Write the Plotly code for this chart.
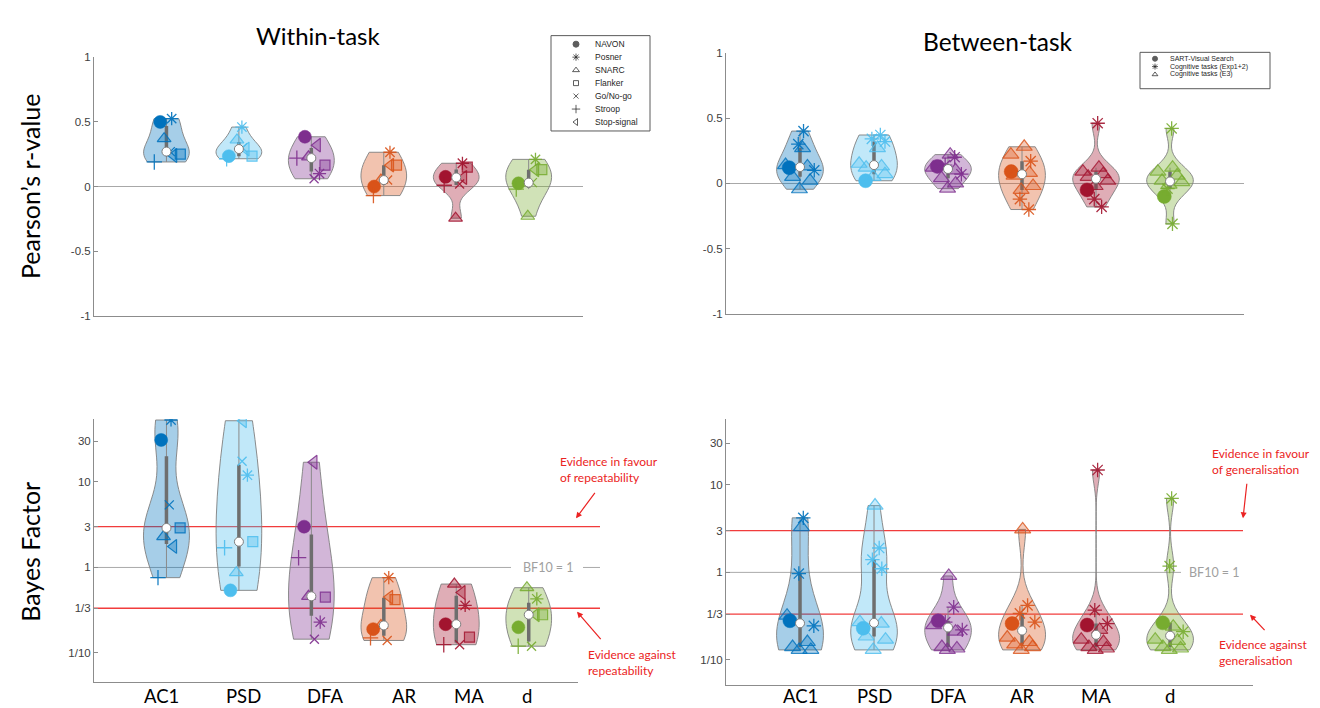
import numpy as np
import plotly.graph_objects as go

W, H = 1320, 708

# ---------------- data ----------------
metrics = ["AC1", "PSD", "DFA", "AR", "MA", "d"]
metric_colors = ["#0072BD", "#4DBEEE", "#7E2F8E", "#D95319", "#A2142F", "#77AC30"]

within_tasks = ["NAVON", "Posner", "SNARC", "Flanker", "Go/No-go", "Stroop", "Stop-signal"]

# Within-task Pearson r, one value per metric (order = metrics)
rw_navon = [0.50, 0.235, 0.385, 0.00, 0.075, 0.025]
rw_posner = [0.525, 0.46, 0.10, 0.265, 0.18, 0.21]
rw_snarc = [0.37, 0.36, 0.23, 0.05, -0.245, -0.23]
rw_flanker = [0.25, 0.235, 0.165, 0.165, 0.15, 0.13]
rw_gonogo = [0.27, 0.30, 0.06, 0.05, 0.02, 0.03]
rw_stroop = [0.19, 0.215, 0.22, -0.07, 0.01, -0.02]
rw_stop = [0.24, 0.29, 0.32, 0.165, 0.07, 0.13]

# Within-task Bayes factors (BF10)
bfw_navon = [31, 0.54, 3.0, 0.19, 0.217, 0.20]
bfw_posner = [53, 12, 0.23, 0.76, 0.36, 0.43]
bfw_snarc = [2.3, 0.87, 0.46, 0.21, 0.64, 0.58]
bfw_flanker = [2.9, 2.0, 0.45, 0.42, 0.153, 0.28]
bfw_gonogo = [5.4, 17.5, 0.145, 0.14, 0.125, 0.12]
bfw_stroop = [0.76, 1.7, 1.3, 0.15, 0.125, 0.12]
bfw_stop = [1.76, 52, 17, 0.45, 0.51, 0.28]

between_groups = ["SART-Visual Search", "Cognitive tasks (Exp1+2)", "Cognitive tasks (E3)"]

# Between-task Pearson r
rb_sart = [0.12, 0.02, 0.13, 0.09, -0.05, -0.10]
rb_exp12 = [[0.40, 0.30, 0.10], [0.37, 0.34, 0.32], [0.20, 0.14, 0.07],
            [0.17, -0.12, -0.20], [0.46, -0.12, -0.18], [0.42, -0.04, -0.31]]
rb_e3 = [[0.27, 0.14, 0.13, 0.05, 0.02, -0.045], [0.27, 0.15, 0.13, 0.12, 0.07, 0.05],
         [0.22, 0.12, 0.10, 0.04, 0.0, -0.04], [0.28, 0.22, 0.08, 0.06, -0.02, -0.05],
         [0.12, 0.09, 0.07, 0.05, 0.02, -0.02], [0.12, 0.09, 0.06, 0.02, 0.01, -0.01]]

# Between-task Bayes factors
bfb_sart = [0.28, 0.23, 0.28, 0.26, 0.25, 0.265]
bfb_exp12 = [[4.2, 0.97, 0.245], [1.9, 1.4, 1.1], [0.40, 0.27, 0.22],
             [0.42, 0.34, 0.27], [14.8, 0.37, 0.26], [7.0, 1.18, 0.21]]
bfb_e3 = [[3.3, 0.32, 0.16, 0.14, 0.13, 0.13], [5.8, 0.27, 0.26, 0.185, 0.17, 0.13],
          [0.91, 0.25, 0.21, 0.14, 0.135, 0.13], [3.1, 0.18, 0.16, 0.15, 0.14, 0.13],
          [0.22, 0.17, 0.16, 0.14, 0.135, 0.13], [0.24, 0.17, 0.165, 0.14, 0.135, 0.13]]

bf_ticks = [0.1, 1 / 3, 1, 3, 10, 30]
bf_ticktext = ["1/10", "1/3", "1", "3", "10", "30"]
r_ticks = [-1, -0.5, 0, 0.5, 1]

# ---------------- styles ----------------
FONT_T = "Lato"
FONT_A = "Liberation Sans"
VW = 0.63
BW_SCALE = 1.2
JIT = np.array([-0.55, 0.5, -0.15, 0.72, 0.2, -0.75, 0.38, -0.4, 0.6, -0.05, 0.1, -0.3])

within_styles = [
    dict(symbol="circle", size=13, fa=1.0, la=1.0, lw=0.5),
    dict(symbol="asterisk-open", size=11, fa=0.9, la=0.9, lw=1.3),
    dict(symbol="triangle-up", size=12, fa=0.35, la=0.85, lw=1.2),
    dict(symbol="square", size=10, fa=0.35, la=0.85, lw=1.2),
    dict(symbol="x-thin-open", size=9, fa=0.9, la=0.9, lw=1.3),
    dict(symbol="cross-thin-open", size=11, fa=0.9, la=0.9, lw=1.3),
    dict(symbol="triangle-left", size=12, fa=0.35, la=0.85, lw=1.2),
]
between_styles = [
    dict(symbol="circle", size=14, fa=1.0, la=1.0, lw=0.5),
    dict(symbol="asterisk-open", size=12, fa=0.9, la=0.9, lw=1.3),
    dict(symbol="triangle-up", size=14, fa=0.3, la=0.8, lw=1.2),
]


def rgba(hexc, a):
    h = hexc.lstrip("#")
    return "rgba(%d,%d,%d,%.3f)" % (int(h[0:2], 16), int(h[2:4], 16), int(h[4:6], 16), a)


def matlab_bw(v):
    n = len(v)
    sig = np.median(np.abs(v - np.median(v))) / 0.6745
    if sig <= 0:
        sig = np.std(v) if np.std(v) > 0 else 0.05
    return BW_SCALE * sig * (4.0 / (3.0 * n)) ** 0.2


def dens(v, bw, y):
    y = np.atleast_1d(y)
    return np.exp(-0.5 * ((y[:, None] - v[None, :]) / bw) ** 2).sum(axis=1)


fig = go.Figure()


def add_panel(groups, styles, xa, ya, tf):
    n_m = len(metrics)
    gx = [[] for _ in groups]
    gy = [[] for _ in groups]
    gc = [[] for _ in groups]
    wx, wy, bx, by, mx, my = [], [], [], [], [], []
    for m in range(n_m):
        pos = m + 1
        parts = [np.atleast_1d(tf(np.asarray(g[m], dtype=float))) for g in groups]
        allv = np.concatenate(parts)
        bw = matlab_bw(allv)
        grid = np.linspace(allv.min(), allv.max(), 300)
        dmax = dens(allv, bw, grid).max()
        frac = dens(allv, bw, allv) / dmax
        offs = JIT[: len(allv)] * frac * VW / 2 * 0.85
        fig.add_trace(go.Violin(
            x=[pos] * len(allv), y=allv, width=VW, bandwidth=bw, spanmode="hard",
            scalemode="width", side="both", points=False,
            fillcolor=rgba(metric_colors[m], 0.35),
            line=dict(color="rgba(128,128,128,0.9)", width=1),
            box_visible=False, meanline_visible=False, showlegend=False,
            hoverinfo="skip", xaxis=xa, yaxis=ya))
        k = 0
        for gi, p in enumerate(parts):
            for v in p:
                gx[gi].append(pos + offs[k])
                gy[gi].append(v)
                gc[gi].append(metric_colors[m])
                k += 1
        q1, q2, q3 = np.quantile(allv, [0.25, 0.5, 0.75], method="hazen")
        iqr = q3 - q1
        lo = allv[allv >= q1 - 1.5 * iqr].min()
        hi = allv[allv <= q3 + 1.5 * iqr].max()
        wx += [pos, pos, None]
        wy += [lo, hi, None]
        bx += [pos, pos, None]
        by += [q1, q3, None]
        mx.append(pos)
        my.append(q2)
    fig.add_trace(go.Scatter(x=wx, y=wy, mode="lines", line=dict(color="#8a8a8a", width=1),
                             showlegend=False, hoverinfo="skip", xaxis=xa, yaxis=ya))
    fig.add_trace(go.Scatter(x=bx, y=by, mode="lines", line=dict(color="#6e6e6e", width=3.5),
                             showlegend=False, hoverinfo="skip", xaxis=xa, yaxis=ya))
    for gi, st in enumerate(styles):
        fills = [rgba(c, st["fa"]) for c in gc[gi]]
        lines = [rgba(c, st["la"]) for c in gc[gi]]
        fig.add_trace(go.Scatter(
            x=gx[gi], y=gy[gi], mode="markers", showlegend=False, hoverinfo="skip",
            marker=dict(symbol=st["symbol"], size=st["size"], color=fills,
                        line=dict(color=lines, width=st["lw"])),
            xaxis=xa, yaxis=ya))
    fig.add_trace(go.Scatter(x=mx, y=my, mode="markers", showlegend=False, hoverinfo="skip",
                             marker=dict(symbol="circle", size=9, color="white",
                                         line=dict(color="#7f7f7f", width=1)),
                             xaxis=xa, yaxis=ya))


ident = lambda a: a
logt = lambda a: np.log10(a)

within_r = [rw_navon, rw_posner, rw_snarc, rw_flanker, rw_gonogo, rw_stroop, rw_stop]
within_bf = [bfw_navon, bfw_posner, bfw_snarc, bfw_flanker, bfw_gonogo, bfw_stroop, bfw_stop]
add_panel(within_r, within_styles, "x", "y", ident)
add_panel([rb_sart, rb_exp12, rb_e3], between_styles, "x2", "y2", ident)
add_panel(within_bf, within_styles, "x3", "y3", logt)
add_panel([bfb_sart, bfb_exp12, bfb_e3], between_styles, "x4", "y4", logt)


# ---------------- legends (drawn on a full-page overlay axis in pixels) ----------------
def px(x):
    return x / W


def py(y):
    return 1 - y / H


leg_w_sym = ["circle", "asterisk-open", "triangle-up-open", "square-open",
             "x-thin-open", "cross-thin-open", "triangle-left-open"]
leg_w_size = [6, 6, 6, 5, 5, 6, 6]
leg_b_sym = ["circle", "asterisk-open", "triangle-up-open"]
leg_b_size = [5, 5, 5]

annotations = []
shapes = []


def manual_legend(labels, syms, sizes, box, y0, step, mxp, txp, fsize):
    ys = [y0 + i * step for i in range(len(labels))]
    fig.add_trace(go.Scatter(
        x=[mxp] * len(labels), y=ys, mode="markers", showlegend=False, hoverinfo="skip",
        marker=dict(symbol=syms, size=sizes, color="#1a1a1a", line=dict(color="#1a1a1a", width=1)),
        xaxis="x5", yaxis="y5"))
    for lab, yy in zip(labels, ys):
        annotations.append(dict(x=px(txp), y=py(yy), xref="paper", yref="paper", text=lab,
                                showarrow=False, xanchor="left", yanchor="middle",
                                font=dict(family=FONT_A, size=fsize, color="#262626")))
    shapes.append(dict(type="rect", xref="paper", yref="paper", x0=px(box[0]), x1=px(box[2]),
                       y0=py(box[3]), y1=py(box[1]), line=dict(color="#5a5a5a", width=1),
                       fillcolor="white", layer="below"))


manual_legend(within_tasks, leg_w_sym, leg_w_size, (543, 22, 642, 119), 30.7, 13.2, 568, 585, 8.5)
manual_legend(between_groups, leg_b_sym, leg_b_size, (1132, 39, 1262, 76), 45.5, 8.0, 1147, 1160, 7)

# ---------------- reference lines ----------------
red = "rgba(240,50,50,0.95)"
for (xl, xr, yref) in [(86, 592, "y3"), (718, 1235, "y4")]:
    for v in (3, 1 / 3):
        shapes.append(dict(type="line", xref="paper", yref=yref, x0=px(xl), x1=px(xr),
                           y0=np.log10(v), y1=np.log10(v), line=dict(color=red, width=1.3),
                           layer="below"))
gray = "rgba(170,170,170,1)"
shapes.append(dict(type="line", xref="paper", yref="y3", x0=px(86), x1=px(503), y0=0, y1=0,
                   line=dict(color=gray, width=1), layer="below"))
shapes.append(dict(type="line", xref="paper", yref="y3", x0=px(575), x1=px(592), y0=0, y1=0,
                   line=dict(color=gray, width=1), layer="below"))
shapes.append(dict(type="line", xref="paper", yref="y4", x0=px(718), x1=px(1173), y0=0, y1=0,
                   line=dict(color=gray, width=1), layer="below"))

# ---------------- text ----------------
def txt(x, y, s, size, color="black", family=FONT_T, xanchor="center", angle=0, align="left"):
    annotations.append(dict(x=px(x), y=py(y), xref="paper", yref="paper", text=s,
                            showarrow=False, xanchor=xanchor, yanchor="middle", textangle=angle,
                            align=align, font=dict(family=family, size=size, color=color)))


txt(310, 22, "Within-task", 24)
txt(990, 28, "Between-task", 24.5)
txt(22, 175, "Pearson’s r-value", 25, angle=-90)
txt(22, 547, "Bayes Factor", 25, angle=-90)

red_t = "rgb(235,35,35)"
txt(550, 463, "Evidence in favour<br>of repeatability", 12, red_t, xanchor="left")
txt(578, 660, "Evidence against<br>repeatability", 12, red_t, xanchor="left")
txt(1202, 455, "Evidence in favour<br>of generalisation", 12, red_t, xanchor="left")
txt(1209, 650, "Evidence against<br>generalisation", 12, red_t, xanchor="left")
txt(540, 563, "BF10 = 1", 12.5, "#a0a0a0")
txt(1206, 568, "BF10 = 1", 12.5, "#a0a0a0")

for (hx, hy, ax, ay) in [(568, 513, 20, -27), (569, 608, 25, 29), (1235, 513, 4, -36), (1242, 611, 16, 17)]:
    annotations.append(dict(x=px(hx), y=py(hy), xref="paper", yref="paper", text="",
                            showarrow=True, ax=ax, ay=ay, arrowhead=2, arrowsize=1,
                            arrowwidth=1.2, arrowcolor=red_t))

# category labels under the bottom panels
bl_label_x = [0.925, 2.07, 3.19, 4.29, 5.18, 5.98]
for i, lab in enumerate(metrics):
    annotations.append(dict(x=bl_label_x[i], y=py(694), xref="x3", yref="paper", text=lab,
                            showarrow=False, xanchor="center", yanchor="middle", borderpad=0,
                            font=dict(family=FONT_T, size=18.5, color="black")))
    annotations.append(dict(x=i + 1, y=py(694), xref="x4", yref="paper", text=lab,
                            showarrow=False, xanchor="center", yanchor="middle", borderpad=0,
                            font=dict(family=FONT_T, size=18.5, color="black")))

# ---------------- axes ----------------
axcol = "#8c8c8c"
xcommon = dict(showline=True, linecolor=axcol, linewidth=1, ticks="", showticklabels=False,
               showgrid=False, zeroline=False, fixedrange=True)
ycommon = dict(showline=True, linecolor=axcol, linewidth=1, ticks="inside", ticklen=4,
               tickcolor=axcol, showgrid=False, fixedrange=True,
               tickfont=dict(family=FONT_A, size=11.5, color="#404040"))

fig.update_layout(
    width=W, height=H, margin=dict(l=0, r=0, t=0, b=0),
    paper_bgcolor="white", plot_bgcolor="rgba(0,0,0,0)",
    violinmode="overlay", showlegend=False, dragmode=False,
    xaxis=dict(domain=[px(86), px(575)], range=[0, 6.75], anchor="y", **xcommon),
    yaxis=dict(domain=[py(307), py(44)], range=[-1, 1], anchor="x", tickvals=r_ticks,
               ticktext=["-1", "-0.5", "0", "0.5", "1"], zeroline=True,
               zerolinecolor="#a8a8a8", zerolinewidth=1, **ycommon),
    xaxis2=dict(domain=[px(718), px(1236)], range=[0, 7], anchor="y2", **xcommon),
    yaxis2=dict(domain=[py(305.3), py(39.3)], range=[-1, 1], anchor="x2", tickvals=r_ticks,
                ticktext=["-1", "-0.5", "0", "0.5", "1"], zeroline=True,
                zerolinecolor="#a8a8a8", zerolinewidth=1, **ycommon),
    xaxis3=dict(domain=[px(86), px(570)], range=[0, 6.68], anchor="y3", **xcommon),
    yaxis3=dict(domain=[py(680), py(412)], range=[-1.345, 1.736], anchor="x3",
                tickvals=list(np.log10(bf_ticks)), ticktext=bf_ticktext, zeroline=False,
                **ycommon),
    xaxis4=dict(domain=[px(718), px(1245)], range=[0, 7.12], anchor="y4", **xcommon),
    yaxis4=dict(domain=[py(683), py(412)], range=[-1.292, 1.753], anchor="x4",
                tickvals=list(np.log10(bf_ticks)), ticktext=bf_ticktext, zeroline=False,
                **ycommon),
    xaxis5=dict(domain=[0, 1], range=[0, W], anchor="y5", visible=False, fixedrange=True),
    yaxis5=dict(domain=[0, 1], range=[H, 0], anchor="x5", visible=False, fixedrange=True),
    annotations=annotations, shapes=shapes,
)

fig.write_html("out.html")
